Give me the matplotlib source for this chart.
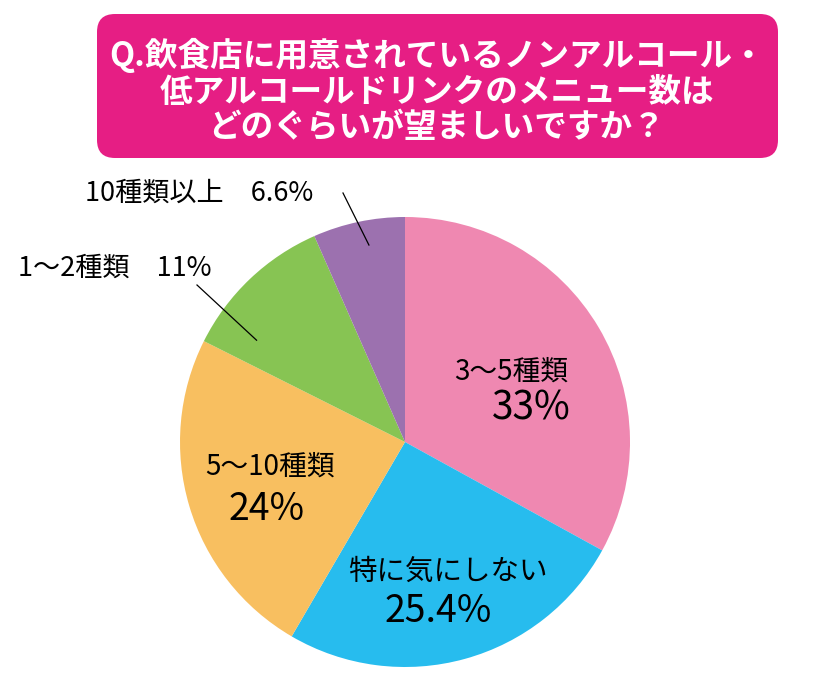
import numpy as np
import matplotlib
matplotlib.use("Agg")
import matplotlib.pyplot as plt
from matplotlib.patches import FancyBboxPatch

plt.rcParams['font.family'] = ['Noto Sans CJK JP', 'DejaVu Sans']

# data (clockwise from 12 o'clock)
labels = ['3〜5種類', '特に気にしない', '5〜10種類', '1〜2種類', '10種類以上']
values = [33, 25.4, 24, 11, 6.6]
pct_text = ['33%', '25.4%', '24%', '11%', '6.6%']
colors = ['#EF88B1', '#27BCEE', '#F8BF60', '#87C453', '#9C71AF']

title = 'Q.飲食店に用意されているノンアルコール・\n低アルコールドリンクのメニュー数は\nどのぐらいが望ましいですか？'

fig = plt.figure(figsize=(8.2, 6.8), dpi=100)

# background layer in pixel coords for the title box
bg = fig.add_axes([0, 0, 1, 1])
bg.set_xlim(0, 820)
bg.set_ylim(680, 0)
bg.axis('off')
box = FancyBboxPatch((97, 14), 681, 144, boxstyle='round,pad=0,rounding_size=18',
                     fc='#E61E84', ec='none')
bg.add_patch(box)
bg.text(437, 91, title, ha='center', va='center', color='white', fontsize=23.5,
        fontweight='bold', linespacing=1.08)

# pie axes: centre (405,442), radius 225 px
R = 225
ax = fig.add_axes([(405 - R) / 820, (680 - 442 - R) / 680, 2 * R / 820, 2 * R / 680])
wedges, _ = ax.pie(values, colors=colors, startangle=90, counterclock=False,
                   radius=1, wedgeprops=dict(linewidth=0))
ax.set_xlim(-1, 1)
ax.set_ylim(-1, 1)
ax.set_aspect('equal')
ax.axis('off')


def px(x, y):
    return ((x - 405) / R, (442 - y) / R)


# labels inside the big slices: (name pos, name size, pct pos, pct size)
inside = {0: ((511, 372), 20, (531, 408), 28),
          1: ((448, 572), 20.5, (438, 612), 27),
          2: ((270, 467), 20, (267, 510), 27)}
for i, (p1, s1, p2, s2) in inside.items():
    ax.text(*px(*p1), labels[i], ha='center', va='center', fontsize=s1, clip_on=False)
    ax.text(*px(*p2), pct_text[i], ha='center', va='center', fontsize=s2, clip_on=False)

# outside labels with leader lines
outside = {4: ((199, 193), (343, 193), 0.89, -1.5), 3: ((115, 268), (197, 285), 0.80, 12)}
for i, (tp, lp, rr, shift) in outside.items():
    ax.text(*px(*tp), labels[i] + '　' + pct_text[i], ha='center', va='center',
            fontsize=19.5, clip_on=False)
    w = wedges[i]
    mid = np.deg2rad((w.theta1 + w.theta2) / 2 + shift)
    x0, y0 = px(*lp)
    ax.plot([x0, rr * np.cos(mid)], [y0, rr * np.sin(mid)], color='black', lw=0.9,
            clip_on=False)

fig.savefig('out.png', dpi=100)
